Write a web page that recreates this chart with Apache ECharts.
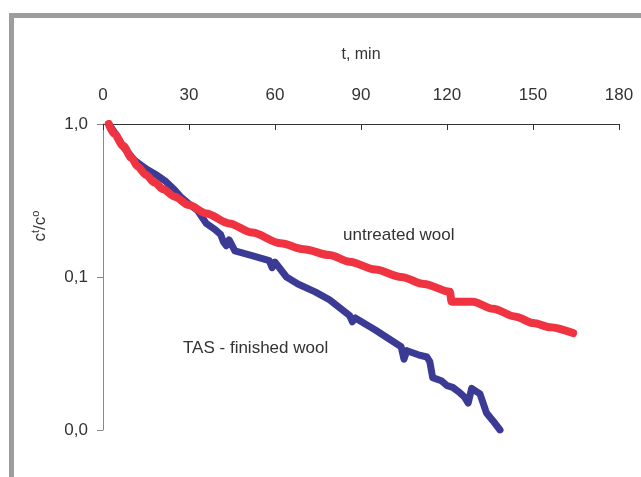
<!DOCTYPE html>
<html lang="en">
<head>
    <meta charset="UTF-8">
    <title>chart</title>
    <script src="https://cdn.jsdelivr.net/npm/echarts@6/dist/echarts.min.js"></script>
    <style>
        html, body {
            margin: 0;
            height: 100%;
            background: #fff;
        }
        #app {
            width: 641px;
            height: 477px;
        }
    </style>
</head>
<body>
<div id="app"></div>
<script>
    // t (min), c^t/c^o
    var untreated = [
        [2, 1.0], [4, 0.86], [7, 0.72], [10, 0.6], [12, 0.53], [15, 0.465], [18, 0.415],
        [21, 0.375], [25, 0.335], [30, 0.295], [36, 0.26], [44, 0.224], [52, 0.195],
        [62, 0.166], [70, 0.152], [79, 0.139], [86, 0.126], [95, 0.112], [104, 0.1],
        [112, 0.09], [121, 0.08], [121.6, 0.069], [129, 0.069], [136, 0.062],
        [144, 0.055], [150, 0.05], [156, 0.047], [164, 0.043]
    ];
    var tasFinished = [
        [2, 1.0], [5, 0.83], [7, 0.71], [11, 0.58], [15, 0.51], [19, 0.46], [22, 0.42],
        [25, 0.37], [27, 0.335], [30, 0.3], [33, 0.272], [36, 0.224], [39, 0.205],
        [41, 0.19], [42, 0.17], [43, 0.16], [44, 0.175], [46, 0.148], [52, 0.138],
        [58, 0.128], [59, 0.115], [60, 0.125], [64, 0.1], [68, 0.09], [74, 0.08],
        [79, 0.071], [86, 0.056], [87, 0.051], [88, 0.054], [95, 0.045], [104, 0.035],
        [105, 0.029], [106, 0.033], [110, 0.031], [113, 0.03], [114, 0.028],
        [115, 0.022], [118, 0.021], [120, 0.0195], [122, 0.019], [124.5, 0.0175],
        [126, 0.0165], [127.4, 0.015], [128.6, 0.0187], [131.5, 0.0172],
        [133.8, 0.0129], [136, 0.0115], [138.5, 0.01]
    ];
    var yTickValues = [0.01, 0.1, 1];
    var yTickLabels = ['0,0', '0,1', '1,0'];

    var font = 'Liberation Sans, Arial, sans-serif';

    var option = {
        animation: false,
        grid: {
            left: 103,
            right: 22,
            top: 124,
            bottom: 47
        },
        xAxis: {
            type: 'value',
            position: 'top',
            min: 0,
            max: 180,
            interval: 30,
            name: 't, min',
            nameLocation: 'middle',
            nameGap: 61,
            nameTextStyle: {color: '#333', fontSize: 16, fontFamily: font},
            axisLine: {show: true, lineStyle: {color: '#333', width: 1}},
            axisTick: {show: true, inside: true, length: 6, lineStyle: {color: '#333'}},
            axisLabel: {color: '#333', fontSize: 17, fontFamily: font, margin: 20},
            splitLine: {show: false}
        },
        yAxis: {
            type: 'log',
            logBase: 10,
            min: 0.01,
            max: 1,
            axisLine: {show: true, lineStyle: {color: '#888', width: 1}},
            axisTick: {show: true, length: 6, lineStyle: {color: '#888'}},
            axisLabel: {
                color: '#333',
                fontSize: 17,
                fontFamily: font,
                margin: 15,
                formatter: function (v) {
                    for (var i = 0; i < yTickValues.length; i++) {
                        if (Math.abs(v - yTickValues[i]) < yTickValues[i] * 1e-6) return yTickLabels[i];
                    }
                    return '';
                }
            },
            splitLine: {show: false}
        },
        series: [
            {
                name: 'TAS - finished wool',
                type: 'line',
                data: tasFinished,
                showSymbol: false,
                lineStyle: {color: '#3b3b96', width: 7, join: 'round', cap: 'round'},
                itemStyle: {color: '#3b3b96'},
                z: 2
            },
            {
                name: 'untreated wool',
                type: 'line',
                data: untreated,
                showSymbol: false,
                smooth: 0.3,
                smoothMonotone: 'x',
                lineStyle: {color: '#ef3340', width: 8, join: 'round', cap: 'round'},
                itemStyle: {color: '#ef3340'},
                z: 3
            }
        ],
        graphic: [
            // grey frame
            {type: 'rect', shape: {x: 9, y: 13, width: 632, height: 5}, style: {fill: '#9d9d9d'}, silent: true},
            {type: 'rect', shape: {x: 9, y: 13, width: 5, height: 464}, style: {fill: '#9d9d9d'}, silent: true},
            {
                type: 'text', x: 40, y: 226, rotation: Math.PI / 2,
                style: {
                    text: '{a|c}{s|t}{a|/c}{s|o}',
                    align: 'center', verticalAlign: 'middle',
                    rich: {
                        a: {fontSize: 17, fontFamily: font, fill: '#333'},
                        s: {fontSize: 11, fontFamily: font, fill: '#333', verticalAlign: 'top', padding: [0, 0, 8, 0]}
                    }
                }
            },
            {
                type: 'text', x: 343, y: 235,
                style: {text: 'untreated wool', fontSize: 17, fontFamily: font, fill: '#333', verticalAlign: 'middle'}
            },
            {
                type: 'text', x: 183, y: 348,
                style: {text: 'TAS - finished wool', fontSize: 17, fontFamily: font, fill: '#333', verticalAlign: 'middle'}
            }
        ]
    };

    var myChart = echarts.init(document.getElementById('app'));
    myChart.setOption(option);
</script>
</body>
</html>
